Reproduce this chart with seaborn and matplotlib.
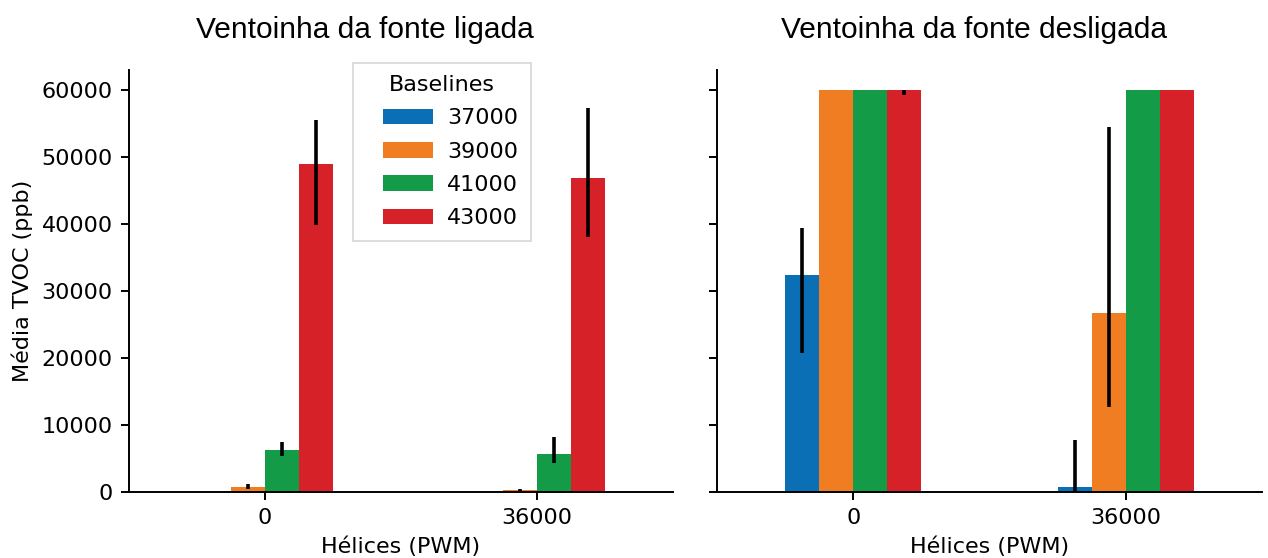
import numpy as np
import pandas as pd
import matplotlib
matplotlib.use("Agg")
import matplotlib.pyplot as plt
from matplotlib.patches import Rectangle
from matplotlib.container import BarContainer
from matplotlib.legend_handler import HandlerPatch, update_from_first_child
import seaborn as sns

# Categories
paineis = ["Ventoinha da fonte ligada", "Ventoinha da fonte desligada"]
pwm = ["0", "36000"]
baselines = ["37000", "39000", "41000", "43000"]

# Mean TVOC per panel, per PWM level, per baseline
media_ligada = [[0, 800, 6300, 49000],
                [0, 350, 5700, 46900]]
media_desligada = [[32400, 60000, 60000, 60000],
                   [750, 26700, 60000, 60000]]

# Error bar limits (nan = no visible bar)
inf_ligada = [[np.nan, 450, 5400, 39800],
              [np.nan, 200, 4300, 38000]]
sup_ligada = [[np.nan, 1200, 7400, 55600],
              [np.nan, 500, 8200, 57300]]
inf_desligada = [[20700, np.nan, np.nan, 59300],
                 [0, 12700, np.nan, np.nan]]
sup_desligada = [[39400, np.nan, np.nan, 60000],
                 [7800, 54500, np.nan, np.nan]]

cores = ["#0a6fb5", "#f07d22", "#149b48", "#d62128"]

sns.set_theme(style="ticks")
plt.rcParams["font.family"] = ["DejaVu Sans"]
for k in ["text.color", "axes.labelcolor", "xtick.color", "ytick.color"]:
    plt.rcParams[k] = "black"

fig = plt.figure(figsize=(12.68, 5.58), dpi=100)
ax1 = fig.add_axes([0.1017, 0.1183, 0.4290, 0.7563])
ax2 = fig.add_axes([0.5655, 0.1183, 0.4298, 0.7563], sharey=ax1)

FS = 16

dados = [(ax1, paineis[0], media_ligada, inf_ligada, sup_ligada, 0.434),
         (ax2, paineis[1], media_desligada, inf_desligada, sup_desligada, 0.472)]

for ax, titulo, media, inf, sup, tx in dados:
    linhas = []
    for i, p in enumerate(pwm):
        for j, b in enumerate(baselines):
            linhas.append({"pwm": p, "baseline": b, "media": media[i][j]})
    df = pd.DataFrame(linhas)
    sns.barplot(data=df, x="pwm", y="media", hue="baseline",
                order=pwm, hue_order=baselines, palette=cores,
                width=0.5, errorbar=None, legend=False, ax=ax,
                saturation=1.0, linewidth=0)
    # error bars at the centre of each bar
    for j, cont in enumerate(ax.containers):
        for i, patch in enumerate(cont.patches):
            lo, hi = inf[i][j], sup[i][j]
            if np.isnan(lo):
                continue
            xc = patch.get_x() + patch.get_width() / 2
            ax.vlines(xc, lo, hi, color="black", lw=2.6, zorder=5)
    ax.set_xlim(-0.5, 1.5)
    ax.set_xlabel("Hélices (PWM)", fontsize=FS, labelpad=6)
    ax.set_title(titulo, fontsize=21.5, family=["Liberation Sans", "DejaVu Sans"],
                 pad=23, x=tx)
    ax.tick_params(axis="both", labelsize=FS, length=6, width=1.4, pad=5.6)
    for s in ["left", "bottom"]:
        ax.spines[s].set_linewidth(1.4)
        ax.spines[s].set_color("black")
    sns.despine(ax=ax)

ax1.set_ylim(0, 63000)
ax1.set_yticks([0, 10000, 20000, 30000, 40000, 50000, 60000])
ax1.set_ylabel("Média TVOC (ppb)", fontsize=FS, labelpad=6)
ax2.set_ylabel("")
ax2.tick_params(axis="y", labelleft=False)


def swatch(legend, orig_handle, xdescent, ydescent, width, height, fontsize):
    off = 0.265 * width
    return Rectangle((-xdescent + off, -ydescent), width - off, height)


leg = ax1.legend(ax1.containers, baselines, title="Baselines",
                 loc="upper left", bbox_to_anchor=(0.412, 1.017),
                 borderaxespad=0, fontsize=FS, title_fontsize=FS,
                 handlelength=3.06, handleheight=0.7, labelspacing=0.6,
                 borderpad=0.55, handletextpad=0.63,
                 frameon=True, fancybox=False,
                 handler_map={BarContainer: HandlerPatch(
                     patch_func=swatch, update_func=update_from_first_child)})
leg.get_frame().set_edgecolor("#cccccc")
leg.get_frame().set_linewidth(1.2)

fig.savefig("out.png", dpi=100, facecolor="white")
